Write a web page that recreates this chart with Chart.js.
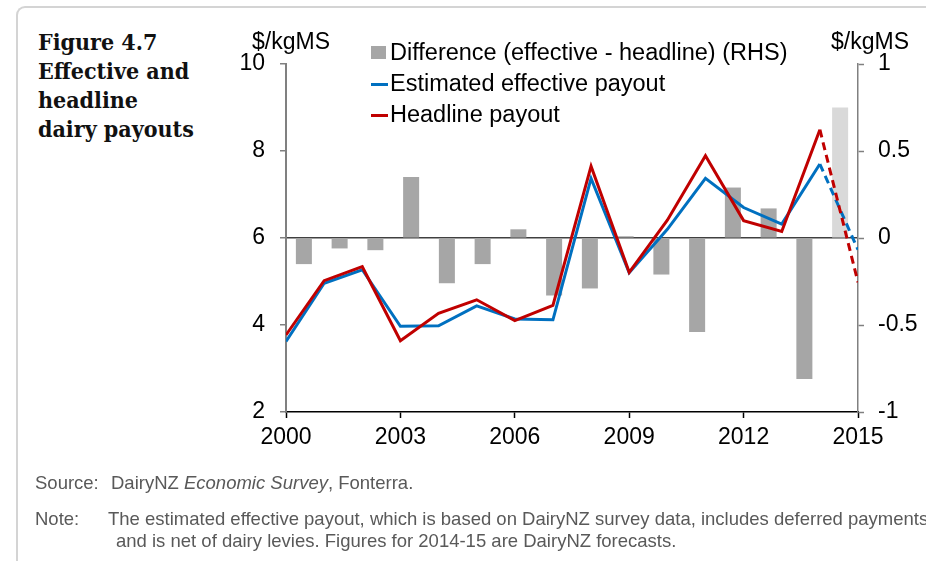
<!DOCTYPE html>
<html>
<head>
<meta charset="utf-8">
<script src="https://cdn.jsdelivr.net/npm/chart.js@4.4.1/dist/chart.umd.min.js"></script>
<style>
  html, body { margin: 0; padding: 0; background: #fff; overflow: hidden; }
  #wrap { position: relative; width: 926px; height: 561px; overflow: hidden; font-family: 'Liberation Sans', Arial, sans-serif; }
  #frame { position: absolute; left: 16px; top: 6px; width: 1000px; height: 700px;
    border-top: 2px solid #d4d4d4; border-left: 2px solid #d4d4d4; border-top-left-radius: 9px; }
  #title { position: absolute; left: 38px; top: 27px; font-family: 'DejaVu Serif Condensed', 'DejaVu Serif', serif;
    font-weight: bold; font-size: 23px; line-height: 29px; color: #111; }
  canvas { position: absolute; left: 0; top: 0; }
  .unit { position: absolute; top: 28px; font-size: 23px; color: #000; }
  #legend { position: absolute; left: 371px; top: 37px; font-size: 23.5px; color: #000; }
  #legend div { position: relative; height: 31px; line-height: 31px; padding-left: 19px; white-space: nowrap; }
  #legend span { position: absolute; left: 0; }
  .note { position: absolute; font-size: 18.5px; color: #595959; white-space: nowrap; }
</style>
</head>
<body>
<div id="wrap">
  <div id="frame"></div>
  <div id="title">Figure 4.7<br>Effective and<br>headline<br>dairy payouts</div>
  <canvas id="chart" width="926" height="561"></canvas>
  <div class="unit" style="left:252px">$/kgMS</div>
  <div class="unit" style="left:831px">$/kgMS</div>
  <div id="legend"></div>
  <div class="note" style="left:35px; top:472px">Source:</div>
  <div class="note" style="left:111px; top:472px">DairyNZ <i>Economic Survey</i>, Fonterra.</div>
  <div class="note" style="left:35px; top:508px">Note:</div>
  <div class="note" style="left:108px; top:508px">The estimated effective payout, which is based on DairyNZ survey data, includes deferred payments</div>
  <div class="note" style="left:116px; top:530px">and is net of dairy levies. Figures for 2014-15 are DairyNZ forecasts.</div>
</div>
<script>
// seasons (year the season starts)
let years = [2000, 2001, 2002, 2003, 2004, 2005, 2006, 2007, 2008, 2009, 2010, 2011, 2012, 2013, 2014, 2015];
// $/kgMS, left axis
let effective = [3.62, 4.96, 5.27, 3.97, 3.98, 4.44, 4.14, 4.12, 7.37, 5.20, 6.20, 7.37, 6.70, 6.32, 7.70, 5.73];
let headline = [3.77, 5.02, 5.34, 3.64, 4.27, 4.58, 4.10, 4.45, 7.65, 5.21, 6.41, 7.89, 6.40, 6.15, 8.49, 4.98];
// effective - headline, right axis
let difference = [-0.15, -0.06, -0.07, 0.35, -0.26, -0.15, 0.05, -0.33, -0.29, 0.01, -0.21, -0.54, 0.29, 0.17, -0.81, 0.75];
let xTicks = [2000, 2003, 2006, 2009, 2012, 2015];

let barGrey = '#a6a6a6';
let barForecast = '#d9d9d9';
let blue = '#0070c0';
let red = '#c00000';
let lastIdx = years.length - 1;
let tickFont = { size: 23, family: "'Liberation Sans', Arial" };

// forecast year drawn dashed
let dashLast = (ctx) => ctx.p1DataIndex === lastIdx ? [8, 5] : undefined;

let chart = new Chart(document.getElementById('chart'), {
  type: 'bar',
  data: {
    datasets: [
      {
        type: 'line',
        label: 'Headline payout',
        data: years.map((yr, i) => ({ x: yr, y: headline[i] })),
        xAxisID: 'x',
        yAxisID: 'y',
        borderColor: red,
        borderWidth: 3,
        pointRadius: 0,
        tension: 0,
        segment: { borderDash: dashLast },
        order: 0
      },
      {
        type: 'line',
        label: 'Estimated effective payout',
        data: years.map((yr, i) => ({ x: yr, y: effective[i] })),
        xAxisID: 'x',
        yAxisID: 'y',
        borderColor: blue,
        borderWidth: 3,
        pointRadius: 0,
        tension: 0,
        segment: { borderDash: dashLast },
        order: 1
      },
      {
        type: 'bar',
        label: 'Difference (effective - headline) (RHS)',
        data: difference,
        xAxisID: 'xb',
        yAxisID: 'y2',
        backgroundColor: (ctx) => ctx.dataIndex === lastIdx ? barForecast : barGrey,
        grouped: false,
        barPercentage: 0.56,
        order: 2
      }
    ]
  },
  options: {
    responsive: false,
    animation: false,
    layout: { padding: { left: 216, right: 8, top: 64, bottom: 109 } },
    plugins: { legend: { display: false }, tooltip: { enabled: false } },
    scales: {
      x: {
        type: 'linear',
        position: 'bottom',
        offset: false,
        min: 2000,
        max: 2015,
        afterBuildTicks: (s) => { s.ticks = xTicks.map(v => ({ value: v })); },
        ticks: { color: '#000', font: tickFont, padding: 6, callback: (v) => String(v), maxRotation: 0 },
        grid: { offset: false, drawOnChartArea: false, tickLength: 6, tickColor: '#000', tickWidth: 1.5 },
        border: { color: '#000', width: 1.5 },
        afterFit: (s) => { s.height = 40; }
      },
      xb: {
        type: 'category',
        labels: years.map(String),
        offset: true,
        display: false
      },
      y: {
        position: 'left',
        min: 2,
        max: 10,
        ticks: { stepSize: 2, color: '#000', font: tickFont, padding: 15 },
        grid: {
          color: (ctx) => ctx.tick && ctx.tick.value === 6 ? '#404040' : 'rgba(0,0,0,0)',
          lineWidth: 1.5,
          tickLength: 6,
          tickColor: '#808080',
          tickWidth: 1.5
        },
        border: { color: '#808080', width: 2 },
        afterFit: (s) => { s.width = 70; }
      },
      y2: {
        position: 'right',
        min: -1,
        max: 1,
        ticks: { stepSize: 0.5, color: '#000', font: tickFont, padding: 14, callback: (v) => String(v) },
        grid: { drawOnChartArea: false, tickLength: 6, tickColor: '#808080', tickWidth: 1.5 },
        border: { color: '#808080', width: 1.5 },
        afterFit: (s) => { s.width = 60; }
      }
    }
  }
});

// legend in the order of the original
let legendItems = [
  { label: chart.data.datasets[2].label, color: barGrey, box: true },
  { label: chart.data.datasets[1].label, color: blue, box: false },
  { label: chart.data.datasets[0].label, color: red, box: false }
];
let legendHTML = '';
legendItems.forEach((item) => {
  let mark = item.box
    ? `<span style="top:9px;width:15px;height:13px;background:${item.color}"></span>`
    : `<span style="top:15px;width:17px;height:3px;background:${item.color}"></span>`;
  legendHTML += `<div>${mark}${item.label}</div>`;
});
document.getElementById('legend').innerHTML = legendHTML;
</script>
</body>
</html>
